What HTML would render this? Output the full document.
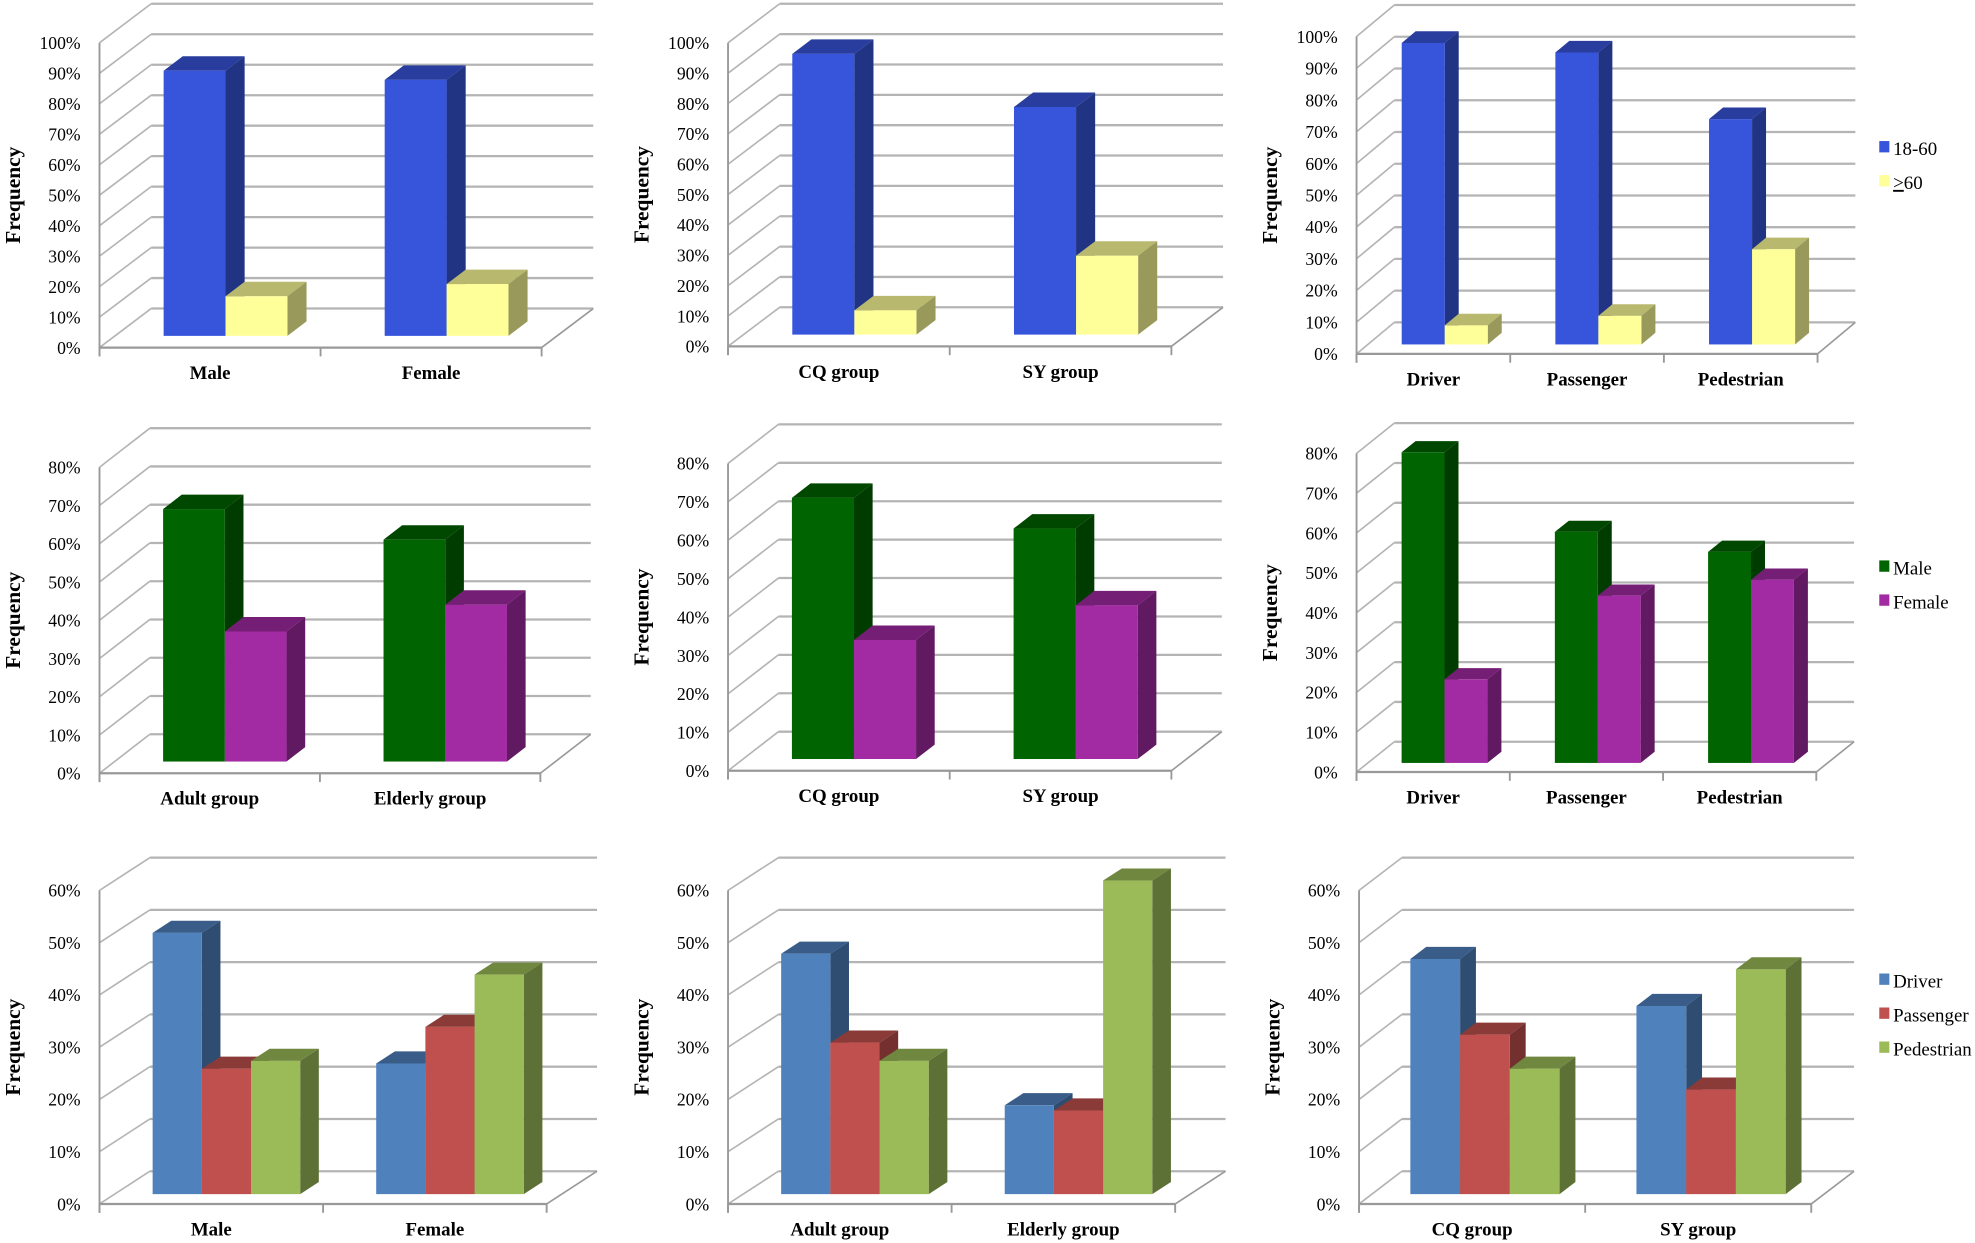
<!DOCTYPE html>
<html><head><meta charset="utf-8"><style>
html,body{margin:0;padding:0;background:#fff;}
svg{display:block;}
text{font-family:"Liberation Serif",serif;fill:#000;}
</style></head><body>
<svg id="s" width="1975" height="1243" viewBox="0 0 1568 987" preserveAspectRatio="none" xmlns="http://www.w3.org/2000/svg"></svg>
<script>
var S=document.getElementById('s'),out='';
function shade(c,f){var n=parseInt(c.slice(1),16),r=n>>16,g=(n>>8)&255,b=n&255;
 function a(v){return Math.max(0,Math.min(255,Math.round(f<1?v*f:v+(255-v)*(f-1))));}
 return 'rgb('+a(r)+','+a(g)+','+a(b)+')';}
function chart(o){
 var x0=o.x0,y0=o.y0,W=o.W,H=o.H,dx=o.dx,dy=o.dy,n=o.max/10,g='#b4b4b4';
 for(var i=0;i<=n;i++){var y=y0-H*i/n;
  out+='<line x1="'+x0+'" y1="'+y+'" x2="'+(x0+dx)+'" y2="'+(y+dy)+'" stroke="'+g+'" stroke-width="1.3"/>';
  out+='<line x1="'+(x0+dx)+'" y1="'+(y+dy)+'" x2="'+(x0+W+dx)+'" y2="'+(y+dy)+'" stroke="'+g+'" stroke-width="1.8"/>';
  out+='<text x="'+(x0-15)+'" y="'+(y+5)+'" font-size="14" text-anchor="end">'+(i*10)+'%</text>';}
 out+='<line x1="'+x0+'" y1="'+(y0-H)+'" x2="'+x0+'" y2="'+(y0+7)+'" stroke="#999" stroke-width="1.5"/>';
 out+='<line x1="'+x0+'" y1="'+y0+'" x2="'+(x0+W)+'" y2="'+y0+'" stroke="#999" stroke-width="1.8"/>';
 out+='<line x1="'+(x0+W)+'" y1="'+y0+'" x2="'+(x0+W+dx)+'" y2="'+(y0+dy)+'" stroke="#999" stroke-width="1.3"/>';
 var nc=o.cats.length,band=W/nc,ns=o.cols.length,bw=band*o.bf,f=0.3,bdx=dx*0.37,bdy=dy*0.37;
 for(var c=0;c<=nc;c++){var x=x0+band*c;out+='<line x1="'+x+'" y1="'+y0+'" x2="'+x+'" y2="'+(y0+7)+'" stroke="#999" stroke-width="1.5"/>';}
 for(var c=0;c<nc;c++){
  out+='<text x="'+(x0+band*(c+0.5))+'" y="'+(y0+25)+'" font-size="15" font-weight="bold" text-anchor="middle">'+o.cats[c]+'</text>';
  var left=x0+band*c+(band-bw*ns)/2+f*dx,by=y0+f*dy;
  for(var s=0;s<ns;s++){var v=o.vals[c][s],h=H*v/o.max,bx=left+bw*s,ty=by-h,col=o.cols[s];
   out+='<polygon points="'+bx+','+ty+' '+(bx+bdx)+','+(ty+bdy)+' '+(bx+bw+bdx)+','+(ty+bdy)+' '+(bx+bw)+','+ty+'" fill="'+shade(col,o.top?0.75:0.72)+'"/>';
   out+='<polygon points="'+(bx+bw)+','+ty+' '+(bx+bw+bdx)+','+(ty+bdy)+' '+(bx+bw+bdx)+','+(by+bdy)+' '+(bx+bw)+','+by+'" fill="'+shade(col,0.6)+'"/>';
   out+='<rect x="'+bx+'" y="'+ty+'" width="'+bw+'" height="'+h+'" fill="'+col+'"/>';}}
 out+='<text transform="translate('+(x0-63)+','+(y0-H/2)+') rotate(-90)" font-size="17" font-weight="bold" text-anchor="middle">Frequency</text>';
}
function legend(y,items){items.forEach(function(it,i){var yy=y+i*27;
 out+='<rect x="1492" y="'+(yy-6)+'" width="8" height="9" fill="'+it[1]+'"/>';
 out+='<text x="1503" y="'+(yy+5)+'" font-size="15">'+it[0]+'</text>';});}
var B='#3755DB',Y='#FFFF99',G='#006400',P='#A22AA2',D='#4F81BD',R='#C0504D',Gr='#9BBB59';
chart({x0:79,y0:276,W:351,H:242,dx:41,dy:-31,max:100,cats:['Male','Female'],cols:[B,Y],bf:0.28,vals:[[87,13],[84,17]]});
chart({x0:578,y0:275,W:352,H:241,dx:41,dy:-31,max:100,cats:['CQ group','SY group'],cols:[B,Y],bf:0.28,vals:[[92.5,8],[75,26]]});
chart({x0:1077,y0:281,W:366,H:252,dx:30,dy:-25,max:100,cats:['Driver','Passenger','Pedestrian'],cols:[B,Y],bf:0.28,vals:[[95,6],[92,9],[71,30]]});
chart({x0:79,y0:614,W:350,H:243,dx:40,dy:-31,max:80,cats:['Adult group','Elderly group'],cols:[G,P],bf:0.28,vals:[[66,34],[58,41]]});
chart({x0:578,y0:612,W:352,H:244,dx:40,dy:-31,max:80,cats:['CQ group','SY group'],cols:[G,P],bf:0.28,vals:[[68,31],[60,40]]});
chart({x0:1077,y0:613,W:365,H:253,dx:30,dy:-24,max:80,cats:['Driver','Passenger','Pedestrian'],cols:[G,P],bf:0.28,vals:[[78,21],[58,42],[53,46]]});
chart({x0:79,y0:956,W:355,H:249,dx:40,dy:-26,max:60,cats:['Male','Female'],cols:[D,R,Gr],bf:0.22,vals:[[50,24],[25,32]].map(function(a,i){return i==0?[50,24,25.5]:[25,32,42];})});
chart({x0:578,y0:956,W:355,H:249,dx:40,dy:-26,max:60,cats:['Adult group','Elderly group'],cols:[D,R,Gr],bf:0.22,vals:[[46,29,25.5],[17,16,60]]});
chart({x0:1079,y0:956,W:359,H:249,dx:34,dy:-26,max:60,cats:['CQ group','SY group'],cols:[D,R,Gr],bf:0.22,vals:[[45,30.5,24],[36,20,43]]});
legend(118,[['18-60',B],['<tspan text-decoration="underline">&gt;</tspan>60',Y]]);
legend(451,[['Male',G],['Female',P]]);
legend(779,[['Driver',D],['Passenger',R],['Pedestrian',Gr]]);
S.innerHTML=out;
</script>
</body></html>
